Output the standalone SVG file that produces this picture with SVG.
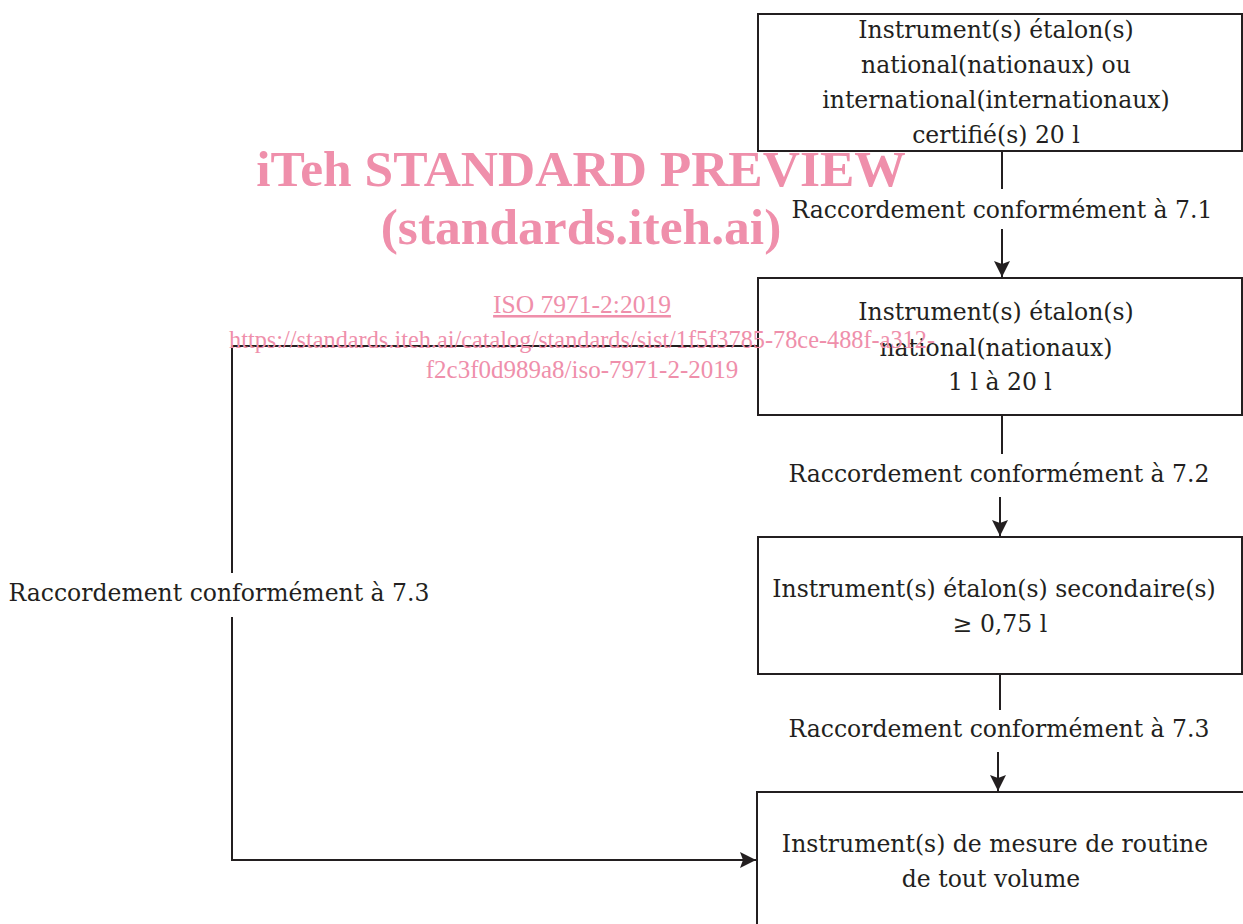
<svg xmlns="http://www.w3.org/2000/svg" width="1243" height="924" viewBox="0 0 1243 924">
<defs>
<style>
.box{fill:#fff;stroke:#231f20;stroke-width:2}
.t{font-family:"DejaVu Serif","Liberation Serif",serif;font-size:23.5px;fill:#231f20;text-anchor:middle}
.c{fill:none;stroke:#231f20;stroke-width:2}
.wm{font-family:"Liberation Serif",serif;fill:#ef8fab;text-anchor:middle}
</style>
<marker id="ahb" viewBox="0 0 16 16" refX="16" refY="8" markerWidth="16" markerHeight="16" markerUnits="userSpaceOnUse" orient="auto">
<path d="M0,0 L16,8 L0,16 L3,8 z" fill="#231f20"/>
</marker>
</defs>
<rect width="1243" height="924" fill="#fff"/>
<g id="connectors">
<line class="c" x1="1002" y1="151" x2="1002" y2="189"/>
<line class="c" x1="1002" y1="229" x2="1002" y2="277" marker-end="url(#ahb)"/>
<line class="c" x1="1002" y1="415" x2="1002" y2="454"/>
<line class="c" x1="1000" y1="497" x2="1000" y2="536" marker-end="url(#ahb)"/>
<line class="c" x1="1000" y1="674" x2="1000" y2="710"/>
<line class="c" x1="998" y1="752" x2="998" y2="791" marker-end="url(#ahb)"/>
<polyline class="c" points="757,346 232,346 232,573"/>
<polyline class="c" points="232,617 232,860 756,860" marker-end="url(#ahb)"/>
<text class="t" x="1002" y="218">Raccordement conformément à 7.1</text>
<text class="t" x="999" y="482">Raccordement conformément à 7.2</text>
<text class="t" x="999" y="737">Raccordement conformément à 7.3</text>
<text class="t" x="219" y="601">Raccordement conformément à 7.3</text>
</g>
<g id="n1">
<rect class="box" x="758" y="14" width="484" height="137"/>
<text class="t" x="996" y="38">Instrument(s) étalon(s)</text>
<text class="t" x="996" y="73">national(nationaux) ou</text>
<text class="t" x="996" y="108">international(internationaux)</text>
<text class="t" x="996" y="143">certifié(s) 20 l</text>
</g>
<g id="n2">
<rect class="box" x="758" y="278" width="484" height="137"/>
<text class="t" x="996" y="320">Instrument(s) étalon(s)</text>
<text class="t" x="996" y="356">national(nationaux)</text>
<text class="t" x="1000" y="390">1 l à 20 l</text>
</g>
<g id="n3">
<rect class="box" x="758" y="537" width="484" height="137"/>
<text class="t" x="994" y="597">Instrument(s) étalon(s) secondaire(s)</text>
<text class="t" x="1000" y="632">≥ 0,75 l</text>
</g>
<g id="n4">
<rect class="box" x="757" y="792" width="490" height="140"/>
<text class="t" x="995" y="852">Instrument(s) de mesure de routine</text>
<text class="t" x="991" y="887">de tout volume</text>
</g>
<g id="watermark">
<text class="wm" x="581" y="186" font-size="51.5" font-weight="bold">iTeh STANDARD PREVIEW</text>
<text class="wm" x="581" y="244" font-size="51.5" font-weight="bold">(standards.iteh.ai)</text>
<text class="wm" x="582" y="313" font-size="25.5" text-decoration="underline">ISO 7971-2:2019</text>
<text class="wm" x="582" y="348" font-size="25" textLength="706" lengthAdjust="spacingAndGlyphs">https://standards.iteh.ai/catalog/standards/sist/1f5f3785-78ce-488f-a312-</text>
<text class="wm" x="582" y="378" font-size="25">f2c3f0d989a8/iso-7971-2-2019</text>
</g>
</svg>
